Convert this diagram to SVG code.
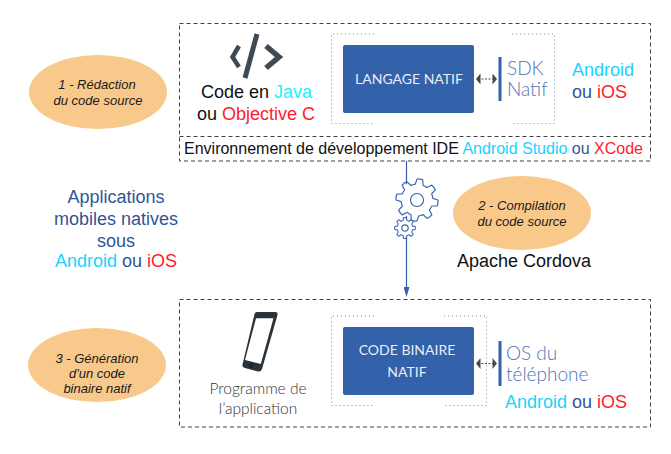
<svg xmlns="http://www.w3.org/2000/svg" xmlns:xlink="http://www.w3.org/1999/xlink" width="671" height="454" viewBox="0 0 671 454">
<style>
text{font-family:"Liberation Sans",Arial,sans-serif}
.dash{fill:none;stroke:#404040;stroke-width:1;stroke-dasharray:4 3}
.dot{fill:none;stroke:#8c8c8c;stroke-width:1;stroke-dasharray:1 3}
.ell{fill:#f8c98a}
.step{font-size:13px;font-style:italic;fill:#1a1a1a;text-anchor:middle}
.box{fill:#3361aa}
.boxt{font-family:Lato,sans-serif;font-size:14px;fill:#e8edf6;text-anchor:middle}
.thin{font-family:Lato,sans-serif;font-weight:300;fill:#4f74b4;font-size:19px}
.prog{font-family:Lato,sans-serif;font-weight:300;font-size:15.500px;fill:#333;text-anchor:middle}
.big{font-size:18px;fill:#2f5597}
.c{fill:#19d3ff}.r{fill:#ff1a2e}.k{fill:#111}.b{fill:#2f5597}.cy{fill:#22f0ff}
.bar{fill:#3361aa}
.arr{stroke:#404a54;stroke-width:1;stroke-dasharray:2 1.5;fill:none}
.head{fill:#404a54}
.gear{fill:none;stroke:#3d68b0;stroke-linejoin:round}
.conn{stroke:#3361aa;stroke-width:1.2;fill:none}
.icon{fill:none;stroke:#3f4a54}
</style>
<defs>
<marker id="tip" markerWidth="7" markerHeight="11" refX="3" refY="1" orient="0" markerUnits="userSpaceOnUse"><path d="M0 0H6L3 10Z" fill="#3361aa"/></marker>
<path id="t" d="M-6.12 -14.78Q-4.4 -15 -3.87 -15.5L-2.92 -20.8Q0 -21.6 2.92 -20.8L3.87 -15.5Q4.4 -15 6.12 -14.78"/>
<g id="gearshape"><use xlink:href="#t"/><use xlink:href="#t" transform="rotate(45)"/><use xlink:href="#t" transform="rotate(90)"/><use xlink:href="#t" transform="rotate(135)"/><use xlink:href="#t" transform="rotate(180)"/><use xlink:href="#t" transform="rotate(225)"/><use xlink:href="#t" transform="rotate(270)"/><use xlink:href="#t" transform="rotate(315)"/></g>
</defs>
<rect width="671" height="454" fill="#fff"/>

<g id="connectors">
<line class="conn" x1="406.5" y1="161" x2="406.5" y2="288" marker-end="url(#tip)"/>
</g>

<g id="box-ide">
<rect class="dash" x="179.5" y="23.5" width="471" height="137.5"/>
<line class="dash" x1="179.5" y1="136.5" x2="650.5" y2="136.5"/>
<text x="184" y="154" font-size="16"><tspan class="k">Environnement de développement IDE </tspan><tspan class="c">Android Studio</tspan><tspan class="b"> ou </tspan><tspan class="r">XCode</tspan></text>
</g>

<g id="step-1">
<ellipse class="ell" cx="98" cy="92" rx="69" ry="37"/>
<text class="step" x="97" y="88.500">1 - Rédaction</text>
<text class="step" x="98" y="105">du code source</text>
</g>

<g id="code-source">
<path class="icon" stroke-width="4.5" d="M239 46L232.500 57L239 67"/>
<path class="icon" stroke-width="5" d="M257 34L245 78"/>
<path class="icon" stroke-width="5.500" d="M266 46L279 57L266 68"/>
<text x="256.500" y="98" font-size="18" text-anchor="middle"><tspan class="k">Code en </tspan><tspan class="cy">Java</tspan></text>
<text x="256" y="120" font-size="18" text-anchor="middle"><tspan class="k">ou </tspan><tspan class="r">Objective C</tspan></text>
</g>

<g id="langage-natif">
<path class="dot" d="M374 34H331.500V123.500H374"/>
<path class="dot" d="M512 34H554.500V123.500H512"/>
<rect class="box" x="343" y="45" width="131" height="68" rx="2"/>
<text class="boxt" x="409" y="84">LANGAGE NATIF</text>
</g>

<g id="sdk-natif">
<line class="arr" x1="478" y1="79" x2="495" y2="79"/>
<path class="head" d="M476 79L480.500 73.500V84.500Z"/>
<path class="head" d="M497 79L492.500 73.500V84.500Z"/>
<rect class="bar" x="498.500" y="57" width="3" height="44"/>
<text class="thin" x="507" y="75">SDK</text>
<text class="thin" x="507" y="96">Natif</text>
<text x="572" y="76" font-size="18" class="c">Android</text>
<text x="572" y="98" font-size="18"><tspan class="b">ou </tspan><tspan class="r">iOS</tspan></text>
</g>

<g id="title">
<text class="big" x="116" y="203" text-anchor="middle">Applications</text>
<text class="big" x="116" y="225" text-anchor="middle">mobiles natives</text>
<text class="big" x="116" y="247" text-anchor="middle">sous</text>
<text x="116" y="267" font-size="18" text-anchor="middle"><tspan class="c">Android</tspan><tspan class="b"> ou </tspan><tspan class="r">iOS</tspan></text>
</g>

<g id="gears">
<circle cx="417" cy="200" r="19" fill="#fff"/>
<use class="gear" xlink:href="#gearshape" transform="translate(417 200) rotate(8)" stroke-width="1.200"/>
<circle cx="417" cy="200" r="6.500" fill="#fff" stroke="#3d68b0" stroke-width="1.200"/>
<circle cx="405" cy="228" r="9" fill="#fff"/>
<use class="gear" xlink:href="#gearshape" transform="translate(405 228) scale(.49)" stroke-width="2.200"/>
<circle cx="405" cy="228" r="3.200" fill="#fff" stroke="#3d68b0" stroke-width="1.200"/>
</g>

<g id="step-2">
<ellipse class="ell" cx="522" cy="213" rx="69" ry="37"/>
<text class="step" x="522" y="209.500">2 - Compilation</text>
<text class="step" x="522" y="226">du code source</text>
<text x="524" y="267" font-size="18" text-anchor="middle" class="k">Apache Cordova</text>
</g>

<g id="box-binaire">
<rect class="dash" x="179.5" y="299.500" width="471" height="127.500"/>
</g>

<g id="step-3">
<ellipse class="ell" cx="97" cy="365" rx="69" ry="37"/>
<text class="step" x="97" y="362.500">3 - Génération</text>
<text class="step" x="97" y="378">d'un code</text>
<text class="step" x="97" y="393">binaire natif</text>
</g>

<g id="programme">
<path d="M257 312H275.500Q278 312 277.500 315L262 369Q261 372 258 371.500L245 368Q242 367 242.500 364.500L254.500 314Q255 312 257 312Z" fill="#2a323a"/>
<path d="M256 318.300H273.500L260.800 364L245 360Z" fill="#fff"/>
<circle cx="251" cy="365.700" r="1.800" fill="none" stroke="#111" stroke-width=".8"/>
<text class="prog" x="258" y="394">Programme de</text>
<text class="prog" x="258" y="414">l’application</text>
</g>

<g id="code-binaire">
<path class="dot" d="M374 316H331.500V405.500H374"/>
<path class="dot" d="M444 316H486.500V405.500H444"/>
<rect class="box" x="343" y="327" width="131" height="68" rx="2"/>
<text class="boxt" x="407" y="355">CODE BINAIRE</text>
<text class="boxt" x="407" y="377">NATIF</text>
</g>

<g id="os">
<line class="arr" x1="478" y1="363.500" x2="495" y2="363.500"/>
<path class="head" d="M476 363.500L480.500 358V369Z"/>
<path class="head" d="M497 363.500L492.500 358V369Z"/>
<rect class="bar" x="498.500" y="341" width="3" height="45"/>
<text class="thin" x="506" y="360">OS du</text>
<text class="thin" x="506" y="381">téléphone</text>
<text x="505" y="408" font-size="18"><tspan class="c">Android</tspan><tspan class="b"> ou </tspan><tspan class="r">iOS</tspan></text>
</g>
</svg>
